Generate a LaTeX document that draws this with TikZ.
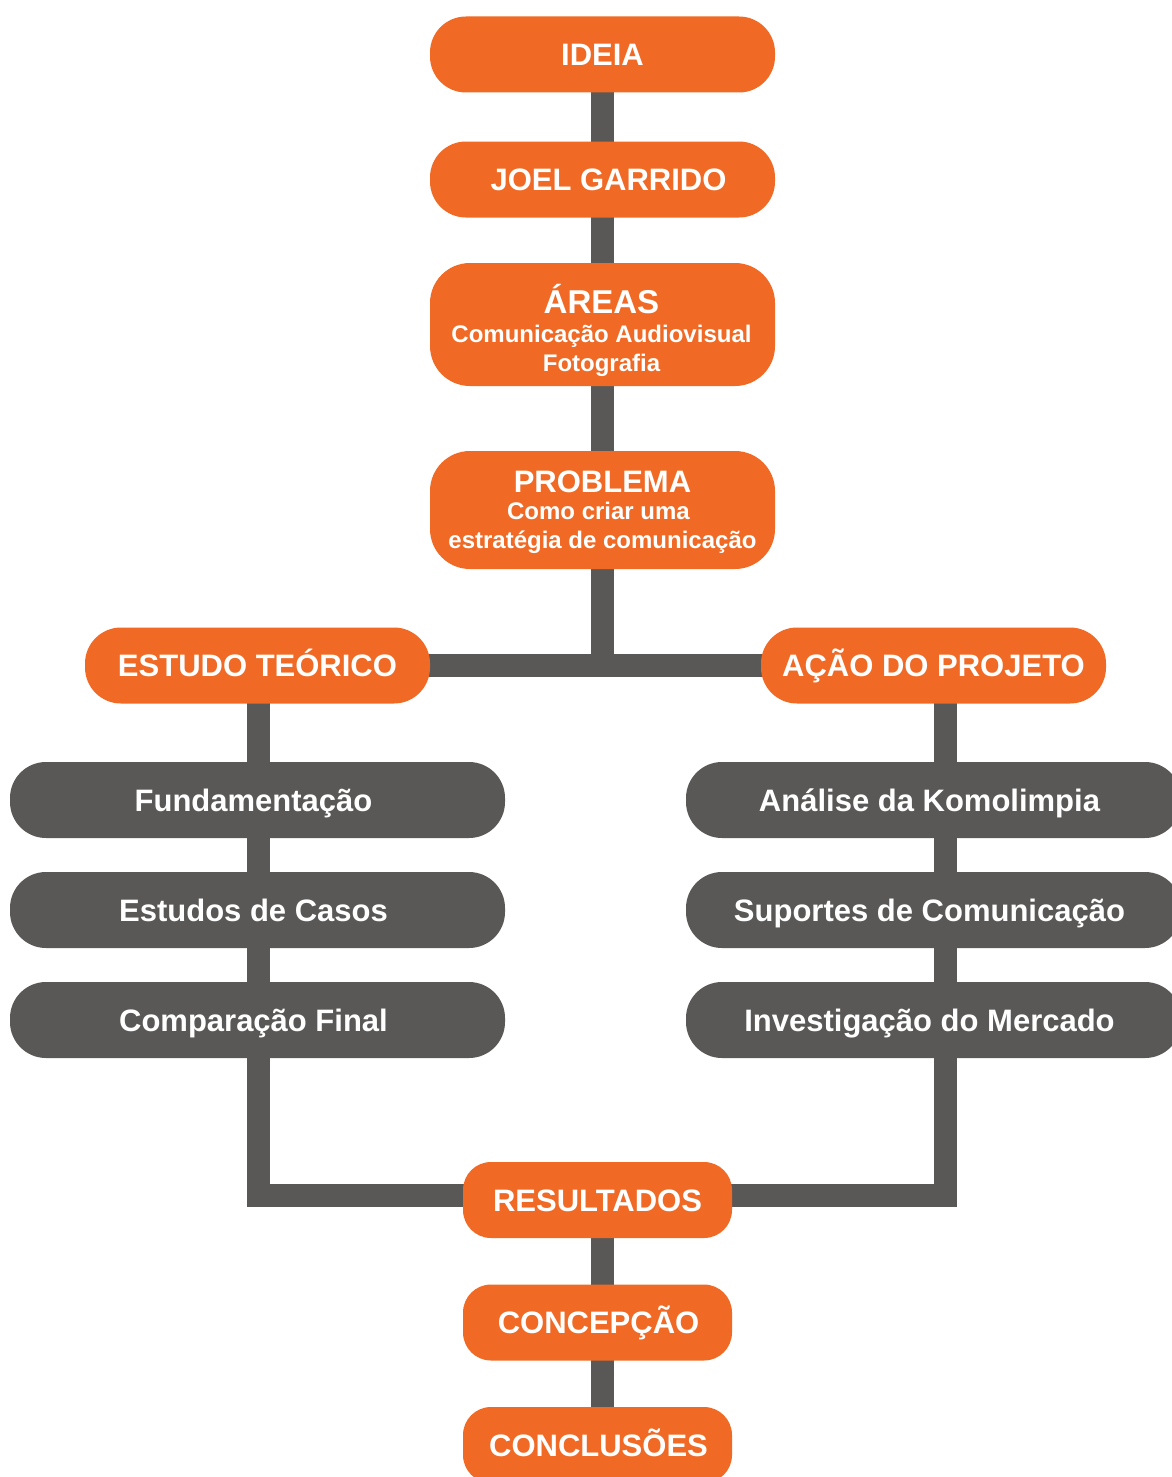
\documentclass[tikz,border=0pt]{standalone}
\usepackage{fontspec}
\setmainfont{Liberation Sans}
\usetikzlibrary{backgrounds}
\pgfdeclarelayer{paper}
\pgfsetlayers{paper,background,main}
\definecolor{orng}{HTML}{F06A25}
\definecolor{gry}{HTML}{5A5856}
\tikzset{
  base box/.style={inner sep=0pt, text=white, font=\bfseries\fontsize{31}{37}\selectfont,
    text height=22.2pt, text depth=0pt},
  obox/.style={base box, fill=orng, rounded corners=36pt, minimum width=345pt, minimum height=76pt},
  tallbox/.style={fill=orng, rounded corners=40pt, minimum width=345pt, inner sep=0pt},
  gbox/.style={base box, fill=gry, rounded corners=36pt, minimum width=495pt, minimum height=76pt},
  rbox/.style={base box, fill=orng, rounded corners=28pt, minimum width=269pt, minimum height=76pt},
  title/.style={anchor=base, text=white, inner sep=0pt, font=\bfseries\fontsize{#1}{#1}\selectfont},
  conn/.style={draw=gry, line width=23pt, line join=miter, line cap=butt},
}
\begin{document}
\begin{tikzpicture}[x=1pt, y=-1pt]
\useasboundingbox (0,0) rectangle (1171,1477);
\begin{pgfonlayer}{paper}
\fill[white] (0,0) rectangle (1171,1477);
\end{pgfonlayer}

\node[obox] (ideia) at (602.5,54.5) {IDEIA};
\node[obox] (joel) at (602.5,179.5) {\kern12pt JOEL GARRIDO};
\node[tallbox, minimum height=123pt] (areas) at (602.5,324.5) {};
\node[title=33] (areasA) at (601.5,313) {ÁREAS};
\node[title=24] (areasB) at (601.5,342) {Comunicação Audiovisual};
\node[title=24] (areasC) at (601.5,371) {Fotografia};
\node[tallbox, minimum height=118pt] (problema) at (602.5,510) {};
\node[title=31] (probA) at (602.5,492) {PROBLEMA};
\node[title=24] (probB) at (598.5,519) {Como criar uma};
\node[title=24] (probC) at (602.5,548) {estratégia de comunicação};

\node[obox] (estudo) at (257.5,665.5) {ESTUDO TEÓRICO};
\node[obox] (acao) at (933.5,665.5) {AÇÃO DO PROJETO};

\node[gbox] (fund) at (257.5,800) {Fundamentação\kern8pt};
\node[gbox] (casos) at (257.5,910) {Estudos de Casos\kern8pt};
\node[gbox] (comp) at (257.5,1020) {Comparação Final\kern8pt};
\node[gbox] (anal) at (933.5,800) {Análise da Komolimpia\kern8pt};
\node[gbox] (sup) at (933.5,910) {Suportes de Comunicação\kern8pt};
\node[gbox] (inv) at (933.5,1020) {Investigação do Mercado\kern8pt};

\node[rbox] (res) at (597.5,1200) {RESULTADOS};
\node[rbox] (conc) at (597.5,1322.5) {\kern2pt CONCEPÇÃO};
\node[rbox] (concl) at (597.5,1445) {\kern2pt CONCLUSÕES};

\begin{pgfonlayer}{background}
  \draw[conn] (ideia.center) -- (ideia.center |- estudo.center);
  \draw[conn] (estudo.center) -- (acao.center);
  \draw[conn] ([xshift=0.5pt]estudo.center) |- ([yshift=4.5pt]res.center);
  \draw[conn] ([xshift=12pt]acao.center) |- ([yshift=4.5pt]res.center);
  \draw[conn] ([xshift=4.5pt]res.center) -- ([xshift=4.5pt]concl.center);
\end{pgfonlayer}
\end{tikzpicture}
\end{document}
